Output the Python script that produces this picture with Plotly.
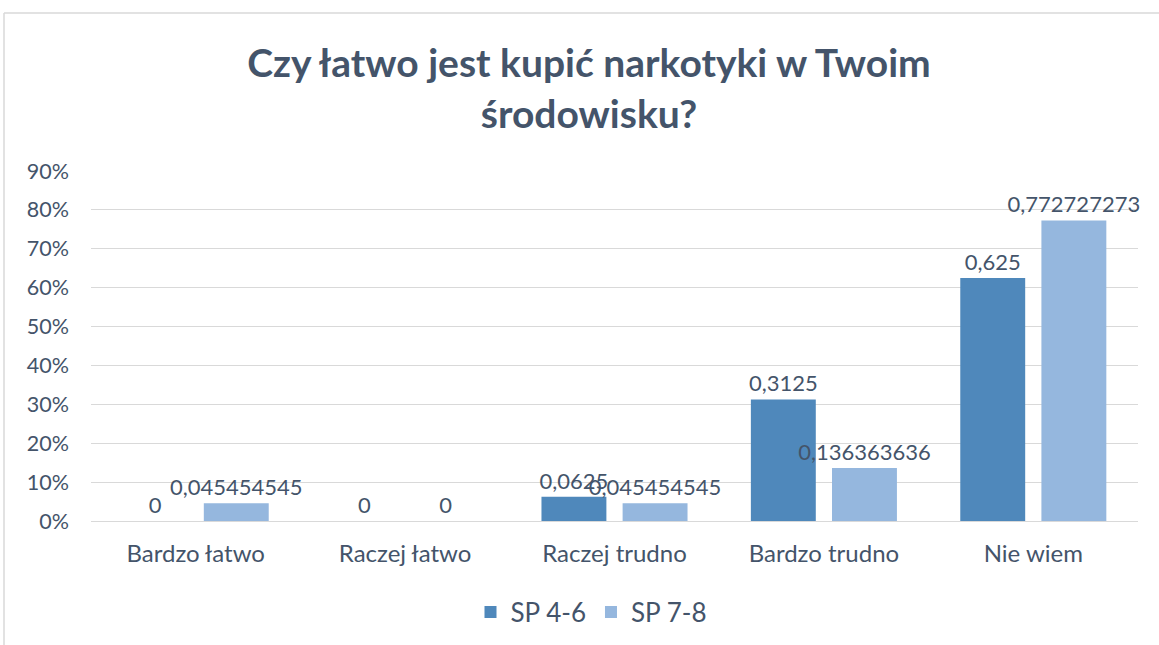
import plotly.graph_objects as go

categories = ["Bardzo łatwo", "Raczej łatwo", "Raczej trudno", "Bardzo trudno", "Nie wiem"]
series_names = ["SP 4-6", "SP 7-8"]
sp46 = [0, 0, 0.0625, 0.3125, 0.625]
sp78 = [0.045454545, 0, 0.045454545, 0.136363636, 0.772727273]
tick_vals = [0, 0.1, 0.2, 0.3, 0.4, 0.5, 0.6, 0.7, 0.8, 0.9]
tick_text = ["0%", "10%", "20%", "30%", "40%", "50%", "60%", "70%", "80%", "90%"]

TXT = "#44546a"
FONT = "Lato"
colors = ["#4f88bb", "#95b7de"]


def fmt(v):
    s = f"{v:.9f}".rstrip("0").rstrip(".")
    return s.replace(".", ",")


fig = go.Figure()
for name, vals, col in zip(series_names, [sp46, sp78], colors):
    fig.add_trace(go.Bar(
        x=categories, y=vals, name=name,
        marker=dict(color=col, line=dict(width=0)),
        text=[fmt(v) for v in vals], textposition="outside",
        textfont=dict(size=22, color=TXT, family=FONT),
        constraintext="none",
        cliponaxis=False,
    ))

W, H = 1159, 645
L, R, T, B = 91, 21, 171, 124
pw = W - L - R
ph = H - T - B


def px(xp):
    return (xp - L) / pw


def py(yp):
    return (H - B - yp) / ph


fig.update_layout(
    width=W, height=H,
    margin=dict(l=L, r=R, t=T, b=B, autoexpand=False),
    paper_bgcolor="white", plot_bgcolor="white",
    font=dict(family=FONT, color=TXT),
    barmode="group", bargap=0.225, bargroupgap=0.2,
    title=dict(text="<b>Czy łatwo jest kupić narkotyki w Twoim<br>środowisku?</b>",
               x=589 / W, xanchor="center", xref="container",
               y=1 - 77 / H, yanchor="top", yref="container",
               font=dict(size=39, color=TXT, family=FONT)),
    xaxis=dict(showgrid=False, showline=False, ticks="", ticklabelstandoff=16,
               tickfont=dict(size=24, color=TXT, family=FONT)),
    yaxis=dict(range=[0, 0.9], tickvals=tick_vals, ticktext=tick_text,
               showgrid=True, gridcolor="#d9d9d9", gridwidth=1,
               zeroline=True, zerolinecolor="#d9d9d9", zerolinewidth=1,
               showline=False, ticks="", ticklen=0, ticklabelstandoff=21,
               tickfont=dict(size=21.5, color=TXT, family=FONT)),
    legend=dict(orientation="h", x=px(591), xanchor="center", y=py(612), yanchor="middle",
                font=dict(size=26, color=TXT, family=FONT), itemwidth=30,
                traceorder="normal"),
    shapes=[
        dict(type="line", xref="paper", yref="paper", x0=px(4), x1=px(W + 5), y0=py(13), y1=py(13),
             line=dict(color="#d9d9d9", width=1.5)),
        dict(type="line", xref="paper", yref="paper", x0=px(4), x1=px(4), y0=py(13), y1=py(H + 5),
             line=dict(color="#d9d9d9", width=1.5)),
    ],
)

fig.write_html("out.html", config={"displayModeBar": False},
               post_script="document.body.style.margin='0';document.body.style.overflow='hidden';")
